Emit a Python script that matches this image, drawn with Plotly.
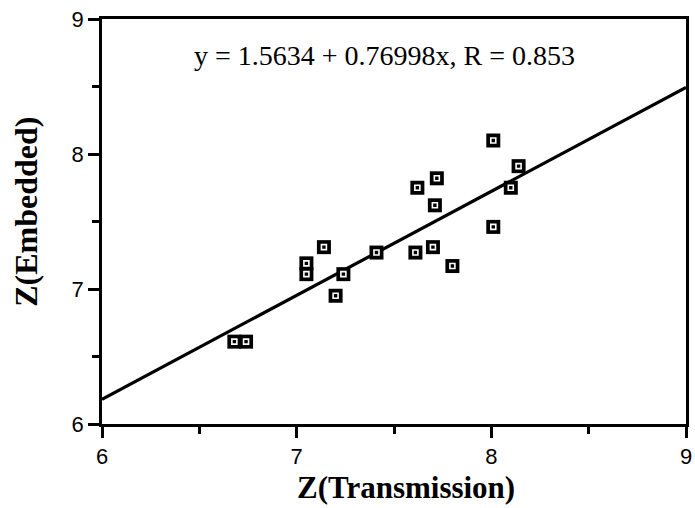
import plotly.graph_objects as go

x_trans = [6.68, 6.74, 7.05, 7.05, 7.14, 7.20, 7.24, 7.41, 7.61, 7.62, 7.70, 7.71, 7.72, 7.80, 8.01, 8.01, 8.10, 8.14]
y_embed = [6.61, 6.61, 7.19, 7.11, 7.31, 6.95, 7.11, 7.27, 7.27, 7.75, 7.31, 7.62, 7.82, 7.17, 8.10, 7.46, 7.75, 7.91]

intercept = 1.5634
slope = 0.76998
r_value = 0.853
fit_x = [6, 9]
fit_y = [intercept + slope * v for v in fit_x]

fig = go.Figure()
fig.add_trace(go.Scatter(x=fit_x, y=fit_y, mode="lines",
                         line=dict(color="black", width=3.2), showlegend=False))
fig.add_trace(go.Scatter(x=x_trans, y=y_embed, mode="markers",
                         marker=dict(symbol="square", size=14, color="black"),
                         showlegend=False))
fig.add_trace(go.Scatter(x=x_trans, y=y_embed, mode="markers",
                         marker=dict(symbol="square-open", size=5, color="white",
                                     line=dict(color="white", width=1.6)),
                         showlegend=False))

fig.add_annotation(x=0.483, y=0.911, xref="paper", yref="paper",
                   xanchor="center", yanchor="middle",
                   text=f"y = {intercept} + {slope}x, R = {r_value}",
                   showarrow=False,
                   font=dict(family="Liberation Serif", size=28, color="black"))

fig.add_annotation(x=0.52, y=-0.157, xref="paper", yref="paper",
                   xanchor="center", yanchor="middle",
                   text="<b>Z(Transmission)</b>", showarrow=False,
                   font=dict(family="Liberation Serif", size=31, color="black"))
fig.add_annotation(x=-0.129, y=0.523, xref="paper", yref="paper",
                   xanchor="center", yanchor="middle",
                   text="<b>Z(Embedded)</b>", showarrow=False, textangle=-90,
                   font=dict(family="Liberation Serif", size=32, color="black"))

axis_common = dict(
    showgrid=False, zeroline=False, showline=True, linecolor="black", linewidth=2.8,
    mirror=True, ticks="outside", ticklen=11, tickwidth=2.8, tickcolor="black",
    tickfont=dict(family="Liberation Sans", size=22, color="black"),
    ticklabeloverflow="allow",
    minor=dict(ticks="outside", ticklen=7, tickwidth=2.8, tickcolor="black", dtick=0.5),
)

fig.update_xaxes(range=[6, 9], tickvals=[6, 7, 8, 9], **axis_common)
fig.update_yaxes(range=[6, 9], tickvals=[6, 7, 8, 9], **axis_common)

fig.update_layout(width=695, height=508,
                  margin=dict(l=102, r=3, t=19, b=84),
                  plot_bgcolor="white", paper_bgcolor="white")

fig.write_html("out.html")
